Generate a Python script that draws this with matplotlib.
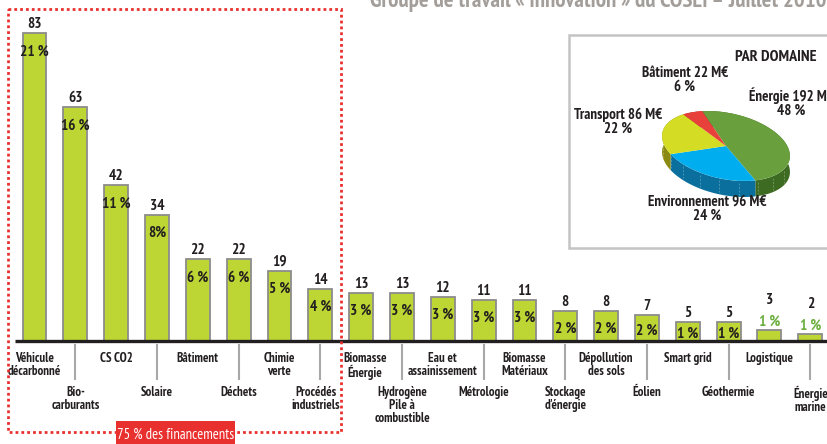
import matplotlib
matplotlib.use("Agg")
import matplotlib.pyplot as plt
from matplotlib.patches import Rectangle
from matplotlib.transforms import Affine2D
import numpy as np

# ---------------- data ----------------
categories = ['Véhicule\ndécarbonné', 'Bio-\ncarburants', 'CS CO2', 'Solaire', 'Bâtiment',
              'Déchets', 'Chimie\nverte', 'Procédés\nindustriels', 'Biomasse\nÉnergie',
              'Hydrogène\nPile à\ncombustible', 'Eau et\nassainissement', 'Métrologie',
              'Biomasse\nMatériaux', "Stockage\nd'énergie", 'Dépollution\ndes sols', 'Éolien',
              'Smart grid', 'Géothermie', 'Logistique', 'Énergie\nmarine']
values = [83, 63, 42, 34, 22, 22, 19, 14, 13, 13, 12, 11, 11, 8, 8, 7, 5, 5, 3, 2]
percent_labels = ['21 %', '16 %', '11 %', '8%', '6 %', '6 %', '5 %', '4 %', '3 %', '3 %',
                  '3 %', '3 %', '3 %', '2 %', '2 %', '2 %', '1 %', '1 %', '1 %', '1 %']

domains = ['Énergie', 'Environnement', 'Transport', 'Bâtiment']
domain_values = [192, 96, 86, 22]
domain_pcts = ['48 %', '24 %', '22 %', '6 %']

title = 'Groupe de travail « Innovation » du COSEI – Juillet 2010'
box_label = '75 % des financements'
pie_title = 'PAR DOMAINE'

# ---------------- style ----------------
W, H = 827, 444
FONT = ['PT Sans Narrow', 'Fira Sans Condensed', 'Barlow Semi Condensed', 'DejaVu Sans']
plt.rcParams['font.family'] = FONT
DARK = '#231f20'
BAR = '#bed633'
BAR_EDGE = '#8c8c8c'
RED = '#e8312f'
GREEN_TXT = '#6aaf3d'

fig = plt.figure(figsize=(W / 100, H / 100), dpi=100)

# bar axes: x unit = 40.83 px, first bar centre at 34.5 px; baseline at 341 px, 3.707 px / unit
XS, X0 = 40.83, 34.5
YS, Y0 = 3.707, 341
ax = fig.add_axes([0, 0, 1, 1])
ax.set_xlim(-X0 / XS, (W - X0) / XS)
ax.set_ylim(-(H - Y0) / YS, Y0 / YS)
ax.axis('off')

x = np.arange(len(values))
ax.bar(x, values, width=0.585, color=BAR, edgecolor=BAR_EDGE, linewidth=1.3, zorder=2)
ax.plot([(15 - X0) / XS, (W - X0) / XS], [0, 0], color=DARK, lw=2.4, zorder=3,
        solid_capstyle='butt')

for i, (v, p) in enumerate(zip(values, percent_labels)):
    h_px = v * YS
    if v >= 4:
        off = min(22, 0.55 * h_px + 5)
        ax.text(i, v + 5 / YS, str(v), ha='center', va='baseline', fontsize=11,
                fontweight='bold', color=DARK, zorder=4)
        ax.text(i, v - off / YS, p, ha='center', va='baseline', fontsize=11,
                fontweight='bold', color=DARK, zorder=4)
    else:
        ax.text(i, v + 26 / YS, str(v), ha='center', va='baseline', fontsize=11,
                fontweight='bold', color=DARK, zorder=4)
        ax.text(i, v + 4 / YS, p, ha='center', va='baseline', fontsize=11,
                fontweight='bold', color=GREEN_TXT, zorder=4)

label_dx = {7: -4, 8: 4}
for i, c in enumerate(categories):
    dx = label_dx.get(i, 0) / XS
    if i % 2 == 0:
        ax.text(i + dx, -11 / YS, c, ha='center', va='top', fontsize=9.3,
                fontweight='bold', color=DARK, linespacing=0.98)
    else:
        ax.plot([i, i], [-4 / YS, -38 / YS], color='#a8a8a8', lw=1.5, zorder=1)
        ax.text(i + dx, -45 / YS, c, ha='center', va='top', fontsize=9.3,
                fontweight='bold', color=DARK, linespacing=0.98)

# ---------------- overlay in pixel coordinates (y downwards) ----------------
axp = fig.add_axes([0, 0, 1, 1])
axp.axis('off')

# title (cut at top)
axp.text(370, 6.5, title, ha='left', va='baseline', fontsize=16.5, fontweight='bold',
         color='#a39e9a')

# red dotted box
axp.add_patch(Rectangle((8, 9.5), 333, 422, fill=False, edgecolor=RED, lw=2.0,
                        linestyle=(0, (1, 1.1)), zorder=5))
axp.add_patch(Rectangle((116, 421), 119, 30, facecolor=RED, edgecolor='none', zorder=6))
axp.text(175.5, 439, box_label, ha='center', va='baseline', fontsize=10.5,
         color='white', zorder=7)

# pie inset frame
axp.add_patch(Rectangle((569, 35), 300, 213, facecolor='white', edgecolor='#c4c4c4',
                        lw=1.8, zorder=1))
axp.text(735, 61, pie_title, ha='left', va='baseline', fontsize=11.5, fontweight='bold',
         color=DARK, zorder=4)

top_colors = ['#6a9f3e', '#00adef', '#d4dc24', '#e8403a']
side_colors = ['#3e6b22', '#0a6f9c', '#8a8a12', '#a02a20']
wedges, _ = axp.pie(domain_values, startangle=118, counterclock=False, colors=top_colors,
                    wedgeprops=dict(linewidth=0))
ell = Affine2D().scale(65, -33).rotate_deg(12).translate(726, 146)
DEPTH = 16
for w, sc in zip(wedges, side_colors):
    w.set_transform(ell + axp.transData)
    w.set_zorder(3)
    t = np.radians(np.linspace(w.theta1, w.theta2, 60))
    arc = ell.transform(np.column_stack([np.cos(t), np.sin(t)]))
    poly = np.vstack([arc, arc[::-1] + [0, DEPTH]])
    axp.fill(poly[:, 0], poly[:, 1], color=sc, lw=0, zorder=2)
    for tt in np.radians(np.arange(np.ceil(w.theta1 / 18) * 18, w.theta2, 18)):
        p = ell.transform([[np.cos(tt), np.sin(tt)]])[0]
        axp.plot([p[0], p[0]], [p[1] + 2, p[1] + DEPTH - 2], color='white', lw=0.5,
                 alpha=0.35, zorder=2.5, linestyle=(0, (3, 2)))

axp.set_aspect('auto')
axp.set_xlim(0, W)
axp.set_ylim(H, 0)

pie_label_pos = [(791, 115), (707.5, 220), (618.5, 133), (685, 91)]
for name, v, p, (lx, ly) in zip(domains, domain_values, domain_pcts, pie_label_pos):
    axp.text(lx, ly, f'{name} {v} M€\n{p}', ha='center', va='baseline', fontsize=10.8,
             fontweight='bold', color=DARK, linespacing=1.0, zorder=4,
             multialignment='center')

fig.savefig('out.png', dpi=100)
